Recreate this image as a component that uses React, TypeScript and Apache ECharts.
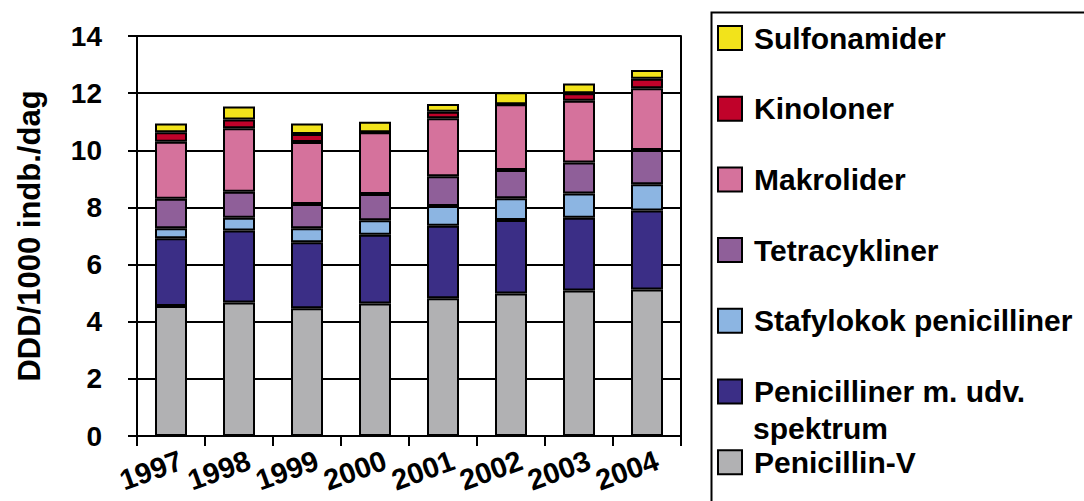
import React, { useEffect, useRef } from "react";
import * as echarts from "echarts";

const years = ["1997", "1998", "1999", "2000", "2001", "2002", "2003", "2004"];
const yTicks = { min: 0, max: 14, interval: 2 };

const penicillinV = [4.55, 4.67, 4.47, 4.64, 4.82, 4.99, 5.09, 5.13];
const udvSpektrum = [2.37, 2.52, 2.31, 2.4, 2.54, 2.57, 2.55, 2.76];
const stafylokok = [0.35, 0.45, 0.49, 0.51, 0.69, 0.76, 0.85, 0.92];
const tetracykliner = [1.03, 0.91, 0.85, 0.92, 1.04, 0.99, 1.08, 1.2];
const makrolider = [2.0, 2.22, 2.17, 2.16, 2.03, 2.3, 2.16, 2.16];
const kinoloner = [0.33, 0.31, 0.28, 0, 0.23, 0, 0.27, 0.33];
const sulfonamider = [0.31, 0.45, 0.37, 0.37, 0.27, 0.42, 0.34, 0.31];

const seriesNames = [
  "Penicillin-V",
  "Penicilliner m. udv.",
  "Stafylokok penicilliner",
  "Tetracykliner",
  "Makrolider",
  "Kinoloner",
  "Sulfonamider",
];
const seriesData = [penicillinV, udvSpektrum, stafylokok, tetracykliner, makrolider, kinoloner, sulfonamider];
const seriesColors = ["#b1b1b3", "#3b2e86", "#8cb5e2", "#8f5f99", "#d5729c", "#c0022a", "#f2e31b"];
const legendOrder = [...seriesNames].reverse();
const legendExtraLine = "spektrum";
const yAxisName = "DDD/1000 indb./dag";

const FONT = "'Liberation Sans', Arial, Helvetica, sans-serif";

export default function App() {
  const ref = useRef<HTMLDivElement>(null);
  useEffect(() => {
    if (!ref.current) return;
    const chart = echarts.init(ref.current, null, { renderer: "svg" });
    chart.setOption({
      animation: false,
      textStyle: { fontFamily: FONT },
      grid: { left: 137, right: 403, top: 36, bottom: 65, containLabel: false },
      xAxis: {
        type: "category",
        data: years,
        axisLine: { lineStyle: { color: "#000", width: 2 } },
        axisTick: { show: true, length: 10, interval: 0, lineStyle: { color: "#000", width: 2 } },
        axisLabel: {
          rotate: 20,
          fontSize: 29,
          fontWeight: "bold",
          color: "#000",
          fontFamily: FONT,
          margin: 27,
          padding: [0, -11, 0, 0],
          interval: 0,
        },
      },
      yAxis: [
        {
          type: "value",
          min: yTicks.min,
          max: yTicks.max,
          interval: yTicks.interval,
          name: yAxisName,
          nameLocation: "middle",
          nameRotate: 90,
          nameGap: 92,
          nameTextStyle: { fontSize: 31, fontWeight: "bold", color: "#000", fontFamily: FONT },
          axisLine: { show: true, lineStyle: { color: "#000", width: 2 } },
          axisTick: { show: true, length: 9, lineStyle: { color: "#000", width: 2 } },
          axisLabel: { fontSize: 28, fontWeight: "bold", color: "#000", margin: 35, fontFamily: FONT },
          splitLine: { show: true, lineStyle: { color: "#000", width: 2 } },
        },
        {
          type: "value",
          position: "right",
          min: yTicks.min,
          max: yTicks.max,
          interval: yTicks.interval,
          axisLine: { show: true, lineStyle: { color: "#000", width: 2 } },
          axisTick: { show: false },
          axisLabel: { show: false },
          splitLine: { show: false },
        },
      ],
      legend: {
        orient: "vertical",
        left: 717,
        top: 23,
        padding: 0,
        itemWidth: 24,
        itemHeight: 24,
        itemGap: 40.7,
        data: legendOrder,
        selectedMode: false,
        icon: "rect",
        itemStyle: { borderColor: "#000", borderWidth: 2 },
        textStyle: {
          fontSize: 30,
          fontWeight: "bold",
          color: "#000",
          fontFamily: FONT,
          lineHeight: 30,
          padding: [0, 0, 0, 7],
        },
      },
      graphic: [
        {
          type: "rect",
          left: 709,
          top: 10,
          shape: { x: 0, y: 0, width: 420, height: 540 },
          style: { fill: "none", stroke: "#000", lineWidth: 2 },
          z: -1,
        },
        {
          type: "text",
          left: 753,
          top: 413,
          style: { text: legendExtraLine, fontSize: 30, fontWeight: "bold", fill: "#000", fontFamily: FONT },
        },
      ],
      series: seriesNames.map((name, i) => ({
        name,
        type: "bar",
        stack: "total",
        barWidth: 32,
        data: seriesData[i],
        itemStyle: { color: seriesColors[i], borderColor: "#000", borderWidth: 2 },
      })),
    });
    return () => chart.dispose();
  }, []);
  return <div ref={ref} style={{ position: "absolute", left: 0, top: 0, width: 1084, height: 501 }} />;
}
